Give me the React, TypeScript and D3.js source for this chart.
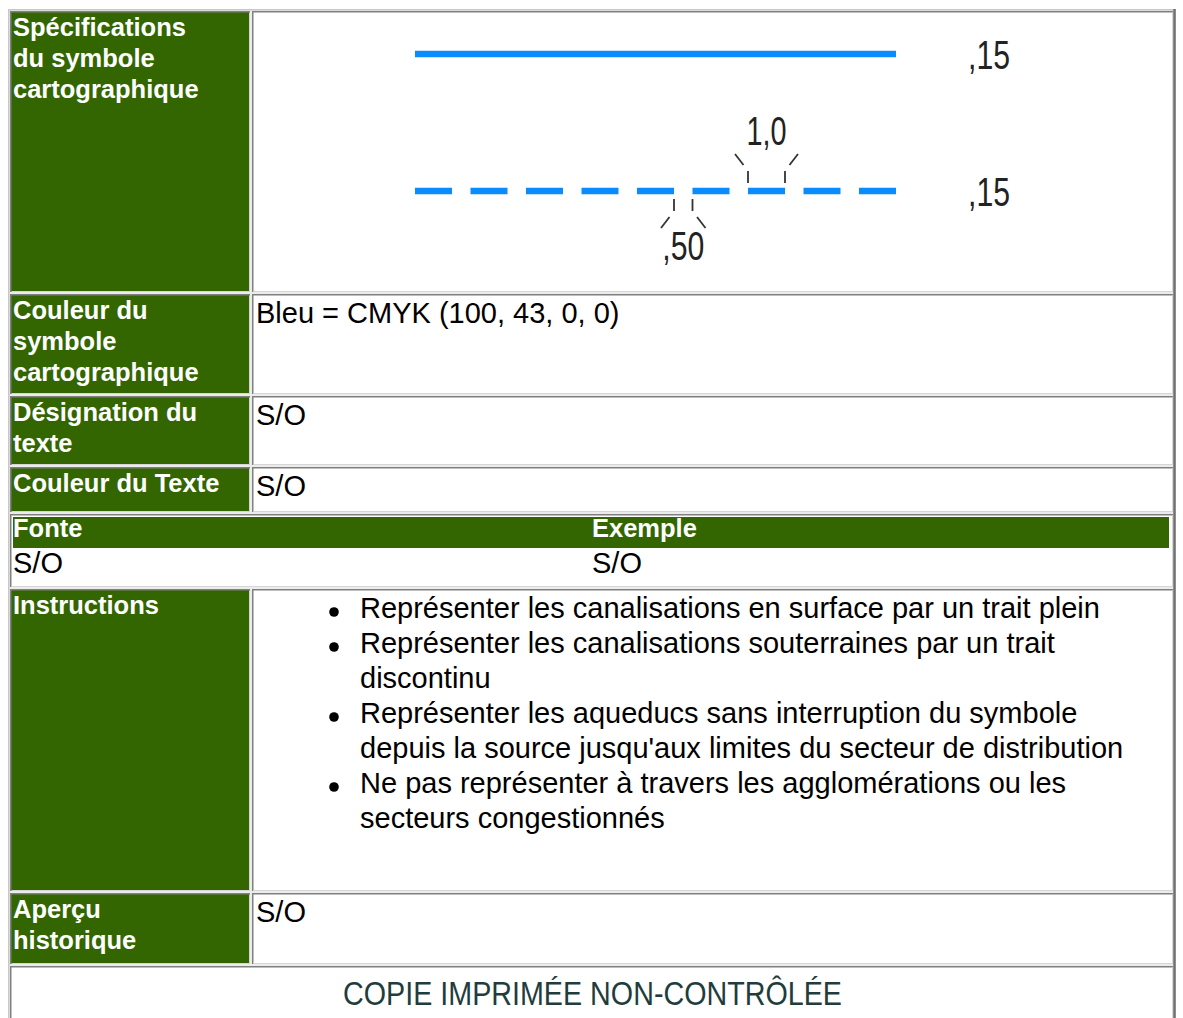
import React from 'react'
import * as d3 from 'd3'

const width = 1183
const height = 1018

const green = '#336600'
const blue = '#0a8cff'
const inkDark = '#222'

// left column headings, one entry per table row (null = spans both columns)
const rowLabels = [
  ['Spécifications', 'du symbole', 'cartographique'],
  ['Couleur du', 'symbole', 'cartographique'],
  ['Désignation du', 'texte'],
  ['Couleur du Texte'],
  null,
  ['Instructions'],
  ['Aperçu', 'historique'],
  null,
]
const rowValues = ['', 'Bleu = CMYK (100, 43, 0, 0)', 'S/O', 'S/O', '', '', 'S/O', '']

const fontHeaders = ['Fonte', 'Exemple']
const fontValues = ['S/O', 'S/O']

// each bullet, already broken into its display lines
const instructions = [
  ['Représenter les canalisations en surface par un trait plein'],
  ['Représenter les canalisations souterraines par un trait', 'discontinu'],
  ['Représenter les aqueducs sans interruption du symbole', "depuis la source jusqu'aux limites du secteur de distribution"],
  ['Ne pas représenter à travers les agglomérations ou les', 'secteurs congestionnés'],
]

const footer = 'COPIE IMPRIMÉE NON-CONTRÔLÉE'

// symbol spec, in mm
const dashLength = 1.0
const gapLength = 0.5
const dashCount = 9
const weightLabels = [',15', ',15']
const dashLabel = '1,0'
const gapLabel = ',50'

// layout
const rowHeights = [281, 100, 69, 45, 73, 302, 71, 60]
const spacing = 2
const tableTop = 11
const colX = [10, 250, 252, 1173]
const rowTops = rowHeights.map((_, i) => tableTop + d3.sum(rowHeights.slice(0, i)) + spacing * i)

const symbolLength = dashCount * dashLength + (dashCount - 1) * gapLength
const mm = d3.scaleLinear().domain([0, symbolLength]).range([415, 896])
const lineY = [54, 191]

const sans = 'Liberation Sans, Arial, Helvetica, sans-serif'

function Cell({ x0, x1, y0, y1, fill, noBottom }: any) {
  return (
    <g>
      <rect x={x0} y={y0} width={x1 - x0} height={y1 - y0} fill={fill} />
      <line x1={x0} x2={x1} y1={y0 + 0.75} y2={y0 + 0.75} stroke="#808080" strokeWidth={1.5} />
      <line x1={x0 + 0.75} x2={x0 + 0.75} y1={y0} y2={y1} stroke="#808080" strokeWidth={1.5} />
      <line x1={x1 - 0.5} x2={x1 - 0.5} y1={y0 + 1.5} y2={y1} stroke="#d6d6d6" strokeWidth={1} />
      {!noBottom && <line x1={x0 + 1.5} x2={x1} y1={y1 - 0.5} y2={y1 - 0.5} stroke="#d6d6d6" strokeWidth={1} />}
    </g>
  )
}

function Tick({ x, y, dir, side }: any) {
  // dir: -1 = above the line, 1 = below; side: -1 left, 1 right
  const v0 = y + dir * 8, v1 = y + dir * 20
  const d0 = y + dir * 26, d1 = y + dir * 37
  return (
    <g stroke="#333" strokeWidth={1.8}>
      <line x1={x} x2={x} y1={v0} y2={v1} />
      <line x1={x + side * 4.5} x2={x + side * 13} y1={d0} y2={d1} />
    </g>
  )
}

function Symbol() {
  const dashStart = (i: number) => i * (dashLength + gapLength)
  const pxPerMm = mm(1) - mm(0)
  const dashIdx = 6
  const gapIdx = 4
  const dx0 = mm(dashStart(dashIdx)), dx1 = mm(dashStart(dashIdx) + dashLength)
  const gx0 = mm(dashStart(gapIdx) + dashLength), gx1 = mm(dashStart(gapIdx + 1))
  return (
    <g>
      <line x1={mm(0)} x2={mm(symbolLength)} y1={lineY[0]} y2={lineY[0]} stroke={blue} strokeWidth={6.5} />
      <line x1={mm(0)} x2={mm(symbolLength)} y1={lineY[1]} y2={lineY[1]} stroke={blue} strokeWidth={6.5}
        strokeDasharray={`${dashLength * pxPerMm} ${gapLength * pxPerMm}`} />
      {weightLabels.map((t, i) => (
        <text key={i} x={968} y={lineY[i] + 15} fontFamily={sans} fontSize={40} fill={inkDark}
          textLength={42} lengthAdjust="spacingAndGlyphs">{t}</text>
      ))}
      <Tick x={dx0} y={lineY[1]} dir={-1} side={-1} />
      <Tick x={dx1} y={lineY[1]} dir={-1} side={1} />
      <text x={(dx0 + dx1) / 2} y={145} textAnchor="middle" fontFamily={sans} fontSize={40} fill={inkDark}
        textLength={40} lengthAdjust="spacingAndGlyphs">{dashLabel}</text>
      <Tick x={gx0} y={lineY[1]} dir={1} side={-1} />
      <Tick x={gx1} y={lineY[1]} dir={1} side={1} />
      <text x={(gx0 + gx1) / 2} y={260} textAnchor="middle" fontFamily={sans} fontSize={40} fill={inkDark}
        textLength={42} lengthAdjust="spacingAndGlyphs">{gapLabel}</text>
    </g>
  )
}

export default function App() {
  const lastRow = rowHeights.length - 1
  let lineNo = 0
  return (
    <svg width={width} height={height} style={{ position: 'absolute', left: 0, top: 0, display: 'block' }}>
      <rect width={width} height={height} fill="#fff" />
      {/* outer table */}
      <rect x={8} y={9} width={1168} height={height} fill="#ececec" />
      <line x1={8.75} x2={8.75} y1={9} y2={height} stroke="#c8c8c8" strokeWidth={1.5} />
      <line x1={8} x2={1176} y1={9.75} y2={9.75} stroke="#c8c8c8" strokeWidth={1.5} />
      <line x1={1174.5} x2={1174.5} y1={9} y2={height} stroke="#707070" strokeWidth={2.5} />

      {rowHeights.map((h, i) => {
        const y0 = rowTops[i], y1 = y0 + h
        const label = rowLabels[i]
        if (!label) {
          return <Cell key={i} x0={colX[0]} x1={colX[3]} y0={y0} y1={y1} fill="#fff" noBottom={i === lastRow} />
        }
        return (
          <g key={i}>
            <Cell x0={colX[0]} x1={colX[1]} y0={y0} y1={y1} fill={green} />
            <Cell x0={colX[2]} x1={colX[3]} y0={y0} y1={y1} fill="#fff" />
            <text fontFamily={sans} fontWeight="bold" fontSize={25.5} fill="#fff">
              {label.map((t, j) => <tspan key={j} x={13} y={y0 + 25 + j * 31}>{t}</tspan>)}
            </text>
            {rowValues[i] && (
              <text x={256} y={y0 + 29} fontFamily={sans} fontSize={29} fill="#000">{rowValues[i]}</text>
            )}
          </g>
        )
      })}

      <Symbol />

      {/* nested font table */}
      <rect x={13} y={rowTops[4] + 3} width={1156} height={31} fill={green} />
      {fontHeaders.map((t, i) => (
        <g key={t}>
          <text x={[13, 592][i]} y={rowTops[4] + 23} fontFamily={sans} fontWeight="bold" fontSize={25.5} fill="#fff">{t}</text>
          <text x={[13, 592][i]} y={rowTops[4] + 59} fontFamily={sans} fontSize={29} fill="#000">{fontValues[i]}</text>
        </g>
      ))}

      {/* instructions list */}
      {instructions.map((item, k) => (
        <g key={k}>
          {item.map((t, j) => {
            const y = rowTops[5] + 29 + (lineNo++) * 35
            return (
              <g key={j}>
                {j === 0 && <circle cx={334} cy={y - 6} r={4.8} fill="#000" />}
                <text x={360} y={y} fontFamily={sans} fontSize={29} fill="#000">{t}</text>
              </g>
            )
          })}
        </g>
      ))}

      <text x={(colX[0] + colX[3]) / 2 + 1} y={rowTops[lastRow] + 39} textAnchor="middle" fontFamily={sans}
        fontSize={33} fill="#1f3d3d" textLength={499} lengthAdjust="spacingAndGlyphs">{footer}</text>
    </svg>
  )
}
